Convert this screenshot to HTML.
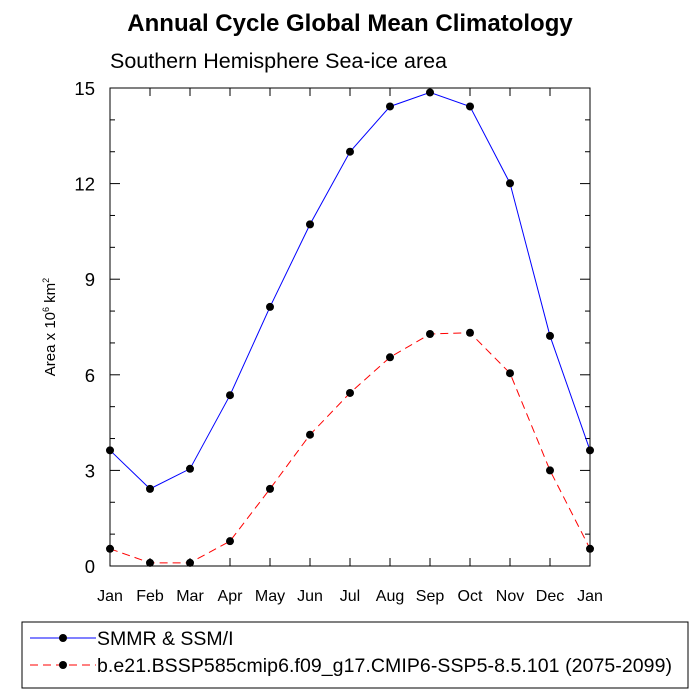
<!DOCTYPE html>
<html><head><meta charset="utf-8"><style>body{margin:0;background:#fff}svg{display:block}text{font-family:"Liberation Sans",sans-serif}</style></head>
<body>
<svg id="c" width="700" height="700">
<text x="350" y="31" text-anchor="middle" font-size="24" font-weight="bold">Annual Cycle Global Mean Climatology</text>
<text x="110" y="68" font-size="21.5">Southern Hemisphere Sea-ice area</text>
<text transform="translate(55,327) rotate(-90)" text-anchor="middle" font-size="15">Area x 10<tspan font-size="9" dy="-6">6</tspan><tspan dy="6"> km</tspan><tspan font-size="9" dy="-6">2</tspan></text>
<g id="g"></g>
<rect x="22" y="622" width="666" height="66" fill="none" stroke="#000"/>
<line x1="30" y1="638" x2="96" y2="638" stroke="#00f"/>
<circle cx="63" cy="638" r="4"/>
<text x="97" y="645" font-size="19.5">SMMR &amp; SSM/I</text>
<line x1="30" y1="665" x2="96" y2="665" stroke="#f00" stroke-dasharray="8,5"/>
<circle cx="63" cy="665" r="4"/>
<text x="97" y="672" font-size="19.5" textLength="575">b.e21.BSSP585cmip6.f09_g17.CMIP6-SSP5-8.5.101 (2075-2099)</text>
</svg>
<script>
const months=["Jan","Feb","Mar","Apr","May","Jun","Jul","Aug","Sep","Oct","Nov","Dec","Jan"];
const obs=[3.63,2.42,3.05,5.36,8.13,10.72,13.0,14.42,14.86,14.42,12.01,7.22,3.63];
const model=[0.54,0.1,0.1,0.78,2.42,4.12,5.43,6.55,7.28,7.32,6.05,3.0,0.54];
const yTicks=[0,3,6,9,12,15];
const L=110,R=590,T=88,B=566;
const x=i=>L+i*(R-L)/12, y=v=>B-v*(B-T)/15;
const g=document.getElementById('g'),NS="http://www.w3.org/2000/svg";
function el(t,a){const e=document.createElementNS(NS,t);for(const k in a)e.setAttribute(k,a[k]);g.appendChild(e);return e;}
let f=el('rect',{x:L,y:T,width:R-L,height:B-T,fill:'none',stroke:'#000'});


months.forEach((m,i)=>{
 const a=el('line',{x1:x(i),x2:x(i),y1:B,y2:B-8,stroke:'#000'});
 
 
 const b=el('line',{x1:x(i),x2:x(i),y1:T,y2:T+8,stroke:'#000'});
 
 
 const t=el('text',{x:x(i),y:B+35,'text-anchor':'middle','font-size':16});t.textContent=m;
 
 
});
for(let v=0;v<=15;v++){const maj=v%3===0,len=maj?10:5;
 const a=el('line',{x1:L,x2:L+len,y1:y(v),y2:y(v),stroke:'#000'});
 
 
 const b=el('line',{x1:R,x2:R-len,y1:y(v),y2:y(v),stroke:'#000'});
 
 }
yTicks.forEach(v=>{const t=el('text',{x:L-15,y:y(v)+7,'text-anchor':'end','font-size':18.5});t.textContent=v;
 
 });
function series(d,c,dash,n){
 const p=el('polyline',{points:d.map((v,i)=>x(i)+','+y(v)).join(' '),fill:'none',stroke:c,'stroke-dasharray':dash});
 
 
 d.forEach((v,i)=>{const m=el('circle',{cx:x(i),cy:y(v),r:4});
 
 });
}
series(obs,'#00f','none','obs');
series(model,'#f00','8,5','model');
</script>
</body></html>
